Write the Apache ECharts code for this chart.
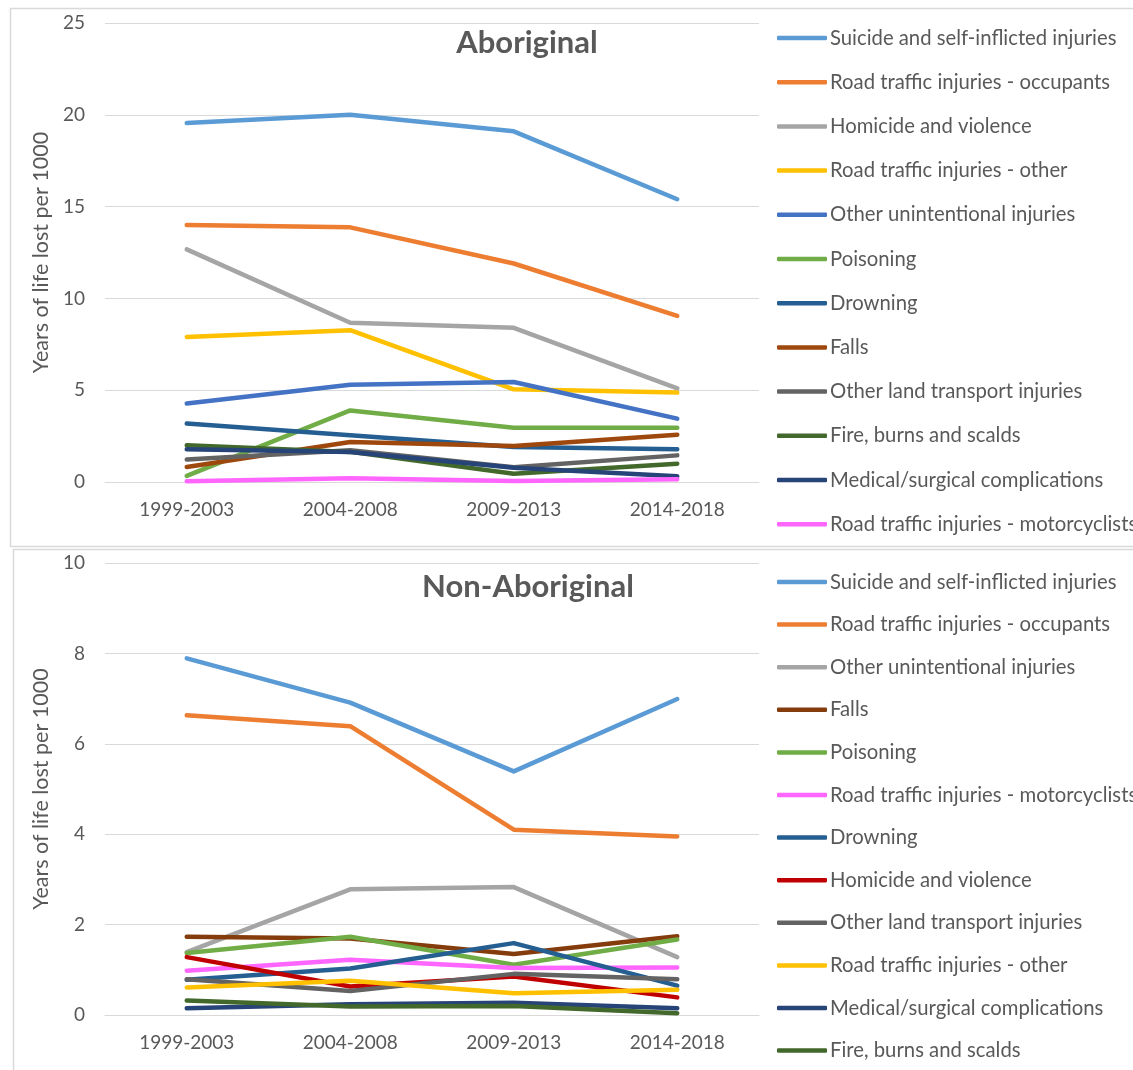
<!DOCTYPE html>
<html>
<head>
<meta charset="utf-8">
<script src="https://cdn.jsdelivr.net/npm/echarts@6/dist/echarts.min.js"></script>
<style>
  html, body { margin: 0; padding: 0; background: #ffffff; }
  #chart { width: 1133px; height: 1070px; }
</style>
</head>
<body>
<div id="chart"></div>
<script>
// Five-year periods on the category axis
const periods = ['1999-2003', '2004-2008', '2009-2013', '2014-2018'];

// Y-axis ticks
const topTicks = { min: 0, max: 25, interval: 5 };
const bottomTicks = { min: 0, max: 10, interval: 2 };

// Aboriginal: years of life lost per 1000
const abSuicide = [19.55, 20.0, 19.1, 15.4];
const abOccupants = [14.0, 13.87, 11.9, 9.05];
const abHomicide = [12.67, 8.67, 8.4, 5.1];
const abRoadOther = [7.9, 8.27, 5.05, 4.87];
const abOtherUnint = [4.27, 5.3, 5.45, 3.45];
const abPoisoning = [0.33, 3.9, 2.95, 2.95];
const abDrowning = [3.18, 2.55, 1.9, 1.78];
const abFalls = [0.82, 2.18, 1.96, 2.58];
const abOtherLand = [1.22, 1.73, 0.8, 1.45];
const abFire = [2.0, 1.64, 0.45, 1.0];
const abMedical = [1.78, 1.64, 0.78, 0.31];
const abMotorcyclists = [0.04, 0.2, 0.05, 0.15];

// Non-Aboriginal: years of life lost per 1000
const naSuicide = [7.89, 6.91, 5.39, 6.99];
const naOccupants = [6.63, 6.39, 4.10, 3.95];
const naOtherUnint = [1.39, 2.78, 2.83, 1.28];
const naFalls = [1.73, 1.69, 1.35, 1.74];
const naPoisoning = [1.37, 1.73, 1.11, 1.67];
const naMotorcyclists = [0.98, 1.22, 1.04, 1.05];
const naDrowning = [0.78, 1.03, 1.59, 0.65];
const naHomicide = [1.28, 0.63, 0.85, 0.39];
const naOtherLand = [0.79, 0.53, 0.91, 0.79];
const naRoadOther = [0.61, 0.76, 0.48, 0.56];
const naMedical = [0.15, 0.24, 0.27, 0.15];
const naFire = [0.32, 0.19, 0.2, 0.04];

// Series lists in legend order: [name, values, colour]
const topSeries = [
  ['Suicide and self-inflicted injuries', abSuicide, '#5B9BD5'],
  ['Road traffic injuries - occupants', abOccupants, '#ED7D31'],
  ['Homicide and violence', abHomicide, '#A5A5A5'],
  ['Road traffic injuries - other', abRoadOther, '#FFC000'],
  ['Other unintentional injuries', abOtherUnint, '#4472C4'],
  ['Poisoning', abPoisoning, '#70AD47'],
  ['Drowning', abDrowning, '#255E91'],
  ['Falls', abFalls, '#9E480E'],
  ['Other land transport injuries', abOtherLand, '#636363'],
  ['Fire, burns and scalds', abFire, '#43682B'],
  ['Medical/surgical complications', abMedical, '#264478'],
  ['Road traffic injuries - motorcyclists', abMotorcyclists, '#FF66FF']
];
const bottomSeries = [
  ['Suicide and self-inflicted injuries', naSuicide, '#5B9BD5'],
  ['Road traffic injuries - occupants', naOccupants, '#ED7D31'],
  ['Other unintentional injuries', naOtherUnint, '#A5A5A5'],
  ['Falls', naFalls, '#843C0C'],
  ['Poisoning', naPoisoning, '#70AD47'],
  ['Road traffic injuries - motorcyclists', naMotorcyclists, '#FF66FF'],
  ['Drowning', naDrowning, '#255E91'],
  ['Homicide and violence', naHomicide, '#C00000'],
  ['Other land transport injuries', naOtherLand, '#636363'],
  ['Road traffic injuries - other', naRoadOther, '#FFC000'],
  ['Medical/surgical complications', naMedical, '#264478'],
  ['Fire, burns and scalds', naFire, '#43682B']
];

const FONT = 'Lato, "Noto Sans", sans-serif';
const TEXT = '#595959';
const GRID_LINE = '#D9D9D9';

function makeXAxis(gridIndex) {
  return {
    type: 'category', gridIndex, data: periods, boundaryGap: true,
    axisLine: { show: true, lineStyle: { color: GRID_LINE, width: 1 } },
    axisTick: { show: false },
    axisLabel: { color: TEXT, fontFamily: FONT, fontSize: 19, margin: 18 }
  };
}
function makeYAxis(gridIndex, ticks) {
  return {
    type: 'value', gridIndex, min: ticks.min, max: ticks.max, interval: ticks.interval,
    name: 'Years of life lost per 1000', nameLocation: 'middle', nameGap: 52,
    nameTextStyle: { color: TEXT, fontFamily: FONT, fontSize: 21.5 },
    axisLine: { show: false }, axisTick: { show: false },
    axisLabel: { color: TEXT, fontFamily: FONT, fontSize: 19, margin: 20 },
    splitLine: { show: true, lineStyle: { color: GRID_LINE, width: 1 } }
  };
}
function makeSeries(list, idx) {
  return list.map(([name, values, color]) => ({
    type: 'line', name, data: values, xAxisIndex: idx, yAxisIndex: idx,
    symbol: 'none', smooth: false, silent: true,
    lineStyle: { color, width: 4.5, cap: 'round', join: 'round' },
    itemStyle: { color }
  }));
}
function makeLegend(list, top, gap) {
  return {
    type: 'plain', orient: 'vertical', left: 777, top, height: 560, padding: 0,
    itemWidth: 50, itemHeight: 4.5, itemGap: gap, icon: 'roundRect', selectedMode: false,
    textStyle: { color: TEXT, fontFamily: FONT, fontSize: 20.3, lineHeight: 22, padding: [0, 0, 0, -2] },
    data: list.map(([name, , color]) => ({ name, itemStyle: { color } }))
  };
}

const chart = echarts.init(document.getElementById('chart'), null, { renderer: 'canvas' });
chart.setOption({
  animation: false,
  backgroundColor: '#ffffff',
  graphic: [
    { type: 'rect', shape: { x: 10.5, y: 8.5, width: 1140, height: 538 }, style: { fill: 'none', stroke: GRID_LINE, lineWidth: 1.5 }, silent: true },
    { type: 'rect', shape: { x: 13.5, y: 549.5, width: 1140, height: 540 }, style: { fill: 'none', stroke: GRID_LINE, lineWidth: 1.5 }, silent: true }
  ],
  title: [
    { text: 'Aboriginal', left: 522, top: 22, textAlign: 'center',
      textStyle: { color: TEXT, fontFamily: FONT, fontSize: 31, fontWeight: 'bold' } },
    { text: 'Non-Aboriginal', left: 523, top: 566, textAlign: 'center',
      textStyle: { color: TEXT, fontFamily: FONT, fontSize: 31, fontWeight: 'bold' } }
  ],
  grid: [
    { left: 105, top: 23, width: 654, height: 459 },
    { left: 105, top: 563, width: 654, height: 452 }
  ],
  xAxis: [makeXAxis(0), makeXAxis(1)],
  yAxis: [makeYAxis(0, topTicks), makeYAxis(1, bottomTicks)],
  legend: [makeLegend(topSeries, 27, 22.2), makeLegend(bottomSeries, 571, 20.6)],
  series: [...makeSeries(topSeries, 0), ...makeSeries(bottomSeries, 1)]
});
</script>
</body>
</html>
